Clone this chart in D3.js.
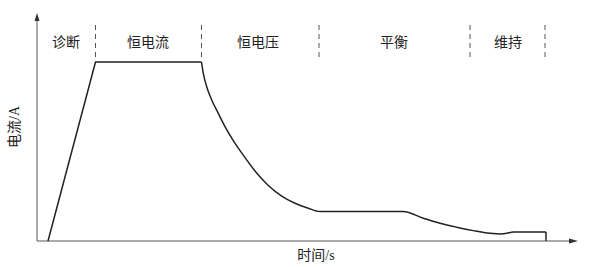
<!DOCTYPE html>
<html><head><meta charset="utf-8">
<script src="https://cdn.jsdelivr.net/npm/d3@7"></script>
<style>body{margin:0;background:#fff}</style>
</head><body>
<script>
// Data (time in arbitrary units, current in arbitrary units)
const riseTime = [11, 58.5, 164.5];
const riseCurrent = [0, 100, 100];
const decayTime = [164.5, 166.3, 169.7, 174.7, 181.3, 188, 196.3, 204.7, 218, 231.3, 244.7, 258, 271.3, 283, 366.3, 386.3, 403, 419.7, 436.3, 453, 464.7, 469.7, 476.3, 509];
const decayCurrent = [100, 93.7, 86.2, 78.8, 71.3, 63.9, 56.1, 49.2, 39.1, 31.0, 25.1, 21.1, 18.3, 16.5, 16.5, 12.7, 9.9, 7.7, 5.8, 4.3, 3.9, 4.3, 5.0, 5.0];
const dropTime = [509, 509];
const dropCurrent = [5.0, 0];
const phaseBounds = [58.5, 164.5, 282, 433, 508];
const phaseNames = ["诊断", "恒电流", "恒电压", "平衡", "维持"];
const phaseCenters = [29, 111, 221, 357, 471];
const xTitle = "时间/s";
const yTitle = "电流/A";

const W = 591, H = 267;
const svg = d3.select("body").append("svg").attr("width", W).attr("height", H);
const x = d3.scaleLinear().domain([0, 541]).range([37, 578]);
const y = d3.scaleLinear().domain([0, 100]).range([241, 62]);

const font = "'Liberation Serif','Noto Sans CJK SC',serif";

// dashed phase separators
svg.selectAll("line.sep").data(phaseBounds).join("line")
  .attr("x1", d => x(d)).attr("x2", d => x(d))
  .attr("y1", 25).attr("y2", 61)
  .attr("stroke", "#555").attr("stroke-width", 1).attr("stroke-dasharray", "5,4");

// phase labels
svg.selectAll("text.ph").data(phaseNames).join("text")
  .attr("x", (d, i) => x(phaseCenters[i])).attr("y", 42)
  .attr("text-anchor", "middle").attr("dominant-baseline", "central")
  .attr("font-family", font).attr("font-size", 14).attr("fill", "#222")
  .text(d => d);

// axes
const axisCol = "#555";
svg.append("line").attr("x1", x(0)).attr("x2", x(0)).attr("y1", y(0)).attr("y2", 18)
  .attr("stroke", axisCol).attr("stroke-width", 1);
svg.append("path").attr("d", `M${x(0)},13 L${x(0)-2.5},21 L${x(0)+2.5},21 Z`).attr("fill", "#333");
svg.append("line").attr("x1", x(0)).attr("x2", x(541) - 4).attr("y1", y(0)).attr("y2", y(0))
  .attr("stroke", axisCol).attr("stroke-width", 1);
svg.append("path").attr("d", `M${x(541)},${y(0)} L${x(541)-9},${y(0)-2.5} L${x(541)-9},${y(0)+2.5} Z`).attr("fill", "#333");

// curve
const lin = d3.line().x(d => x(d[0])).y(d => y(d[1]));
const mono = d3.line().x(d => x(d[0])).y(d => y(d[1])).curve(d3.curveMonotoneX);
const curveStyle = s => s.attr("fill", "none").attr("stroke", "#222").attr("stroke-width", 1.5).attr("stroke-linejoin", "round");
svg.append("path").attr("d", lin(riseTime.map((t, i) => [t, riseCurrent[i]]))).call(curveStyle);
svg.append("path").attr("d", mono(decayTime.map((t, i) => [t, decayCurrent[i]]))).call(curveStyle);
svg.append("path").attr("d", lin(dropTime.map((t, i) => [t, dropCurrent[i]]))).call(curveStyle);

// axis titles
svg.append("text").attr("x", 316).attr("y", 255)
  .attr("text-anchor", "middle").attr("dominant-baseline", "central")
  .attr("font-family", font).attr("font-size", 14).attr("fill", "#222").text(xTitle);
svg.append("text").attr("transform", "translate(14,127) rotate(-90)")
  .attr("text-anchor", "middle").attr("dominant-baseline", "central")
  .attr("font-family", font).attr("font-size", 14).attr("fill", "#222").text(yTitle);
</script>
</body></html>
